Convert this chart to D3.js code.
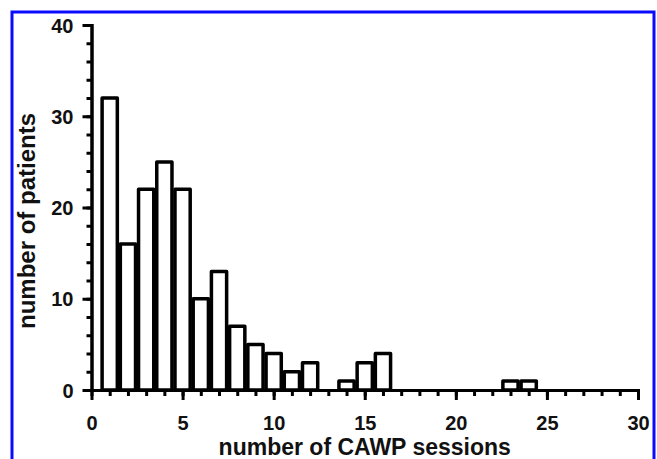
<!DOCTYPE html>
<html>
<head>
<meta charset="utf-8">
<script src="https://cdn.jsdelivr.net/npm/d3@7"></script>
<style>
  body { margin: 0; background: #fff; }
  text { font-family: "Liberation Sans", Arial, sans-serif; font-weight: bold; fill: #111; }
  .axis path, .axis line { stroke: #000; stroke-width: 3; }
</style>
</head>
<body>
<div id="chart"></div>
<script>
// histogram: sessions per patient -> count
const sessions = [1, 2, 3, 4, 5, 6, 7, 8, 9, 10, 11, 12, 13, 14, 15, 16, 17, 18, 19, 20, 21, 22, 23, 24];
const patients = [32, 16, 22, 25, 22, 10, 13, 7, 5, 4, 2, 3, 0, 1, 3, 4, 0, 0, 0, 0, 0, 0, 1, 1];
const xTicks = [0, 5, 10, 15, 20, 25, 30];
const yTicks = [0, 10, 20, 30, 40];
const xTitle = 'number of CAWP sessions';
const yTitle = 'number of patients';

class Histogram {

  constructor(opts) {
    this.data = opts.data;
    this.element = opts.element;
    this.draw();
  }

  draw() {
    this.width = 657;
    this.height = 459;

    const svg = d3.select(this.element).append('svg')
      .attr('width', this.width)
      .attr('height', this.height);
    this.svg = svg;

    // blue frame round the figure, bottom edge runs off the picture
    svg.append('rect')
      .attr('x', 12)
      .attr('y', 12)
      .attr('width', 642)
      .attr('height', 480)
      .attr('fill', 'none')
      .attr('stroke', '#0a0aff')
      .attr('stroke-width', 3);

    this.createScales();
    this.addBars();
    this.addAxes();
  }

  createScales() {
    this.xScale = d3.scaleLinear()
      .domain([0, 30])
      .range([91.5, 638]);

    this.yScale = d3.scaleLinear()
      .domain([0, 40])
      .range([390, 25]);
  }

  addBars() {
    const x = this.xScale, y = this.yScale;
    const step = x(1) - x(0);

    // zero counts are not drawn, they would just thicken the axis
    this.svg.append('g')
      .selectAll('rect')
      .data(this.data.filter(d => d.count > 0))
      .enter().append('rect')
        .attr('x', d => x(d.session - 0.5) + 1.5)
        .attr('width', step - 3)
        .attr('y', d => y(d.count))
        .attr('height', d => y(0) - y(d.count))
        .attr('fill', '#fff')
        .attr('stroke', '#000')
        .attr('stroke-width', 3.5)
        .attr('stroke-linejoin', 'round');
  }

  addAxes() {
    const x = this.xScale, y = this.yScale;

    // minor ticks first (every session / every 2 patients)
    this.svg.append('g')
      .attr('class', 'axis')
      .attr('transform', `translate(0, ${y(0)})`)
      .call(d3.axisBottom(x).ticks(30).tickSize(6).tickSizeOuter(0).tickFormat(''));

    this.svg.append('g')
      .attr('class', 'axis')
      .attr('transform', `translate(${x(0)}, 0)`)
      .call(d3.axisLeft(y).ticks(20).tickSize(5).tickSizeOuter(0).tickFormat(''));

    const xAxis = this.svg.append('g')
      .attr('class', 'axis x')
      .attr('transform', `translate(0, ${y(0)})`)
      .call(d3.axisBottom(x).tickValues(xTicks).tickSize(10).tickSizeOuter(0));
    xAxis.selectAll('text')
      .attr('dy', null)
      .attr('y', 40)
      .style('font-size', '20px')
      .style('font-family', '"Liberation Sans", Arial, sans-serif')
      .style('fill', '#111');

    const yAxis = this.svg.append('g')
      .attr('class', 'axis y')
      .attr('transform', `translate(${x(0)}, 0)`)
      .call(d3.axisLeft(y).tickValues(yTicks).tickSize(9).tickSizeOuter(0));
    yAxis.selectAll('text')
      .attr('x', -18)
      .attr('dy', '0.36em')
      .style('font-size', '20px')
      .style('font-family', '"Liberation Sans", Arial, sans-serif')
      .style('fill', '#111');

    this.svg.selectAll('.axis .domain').attr('stroke-linecap', 'square');

    // axis titles
    this.svg.append('text')
      .attr('x', (x(0) + x(30)) / 2)
      .attr('y', 455)
      .attr('text-anchor', 'middle')
      .style('font-size', '23px')
      .text(xTitle);

    this.svg.append('text')
      .attr('transform', 'translate(35, 221) rotate(-90)')
      .attr('text-anchor', 'middle')
      .style('font-size', '24px')
      .text(yTitle);
  }
}

const rows = sessions.map((s, i) => ({ session: s, count: patients[i] }));
new Histogram({ data: rows, element: document.getElementById('chart') });
</script>
</body>
</html>
